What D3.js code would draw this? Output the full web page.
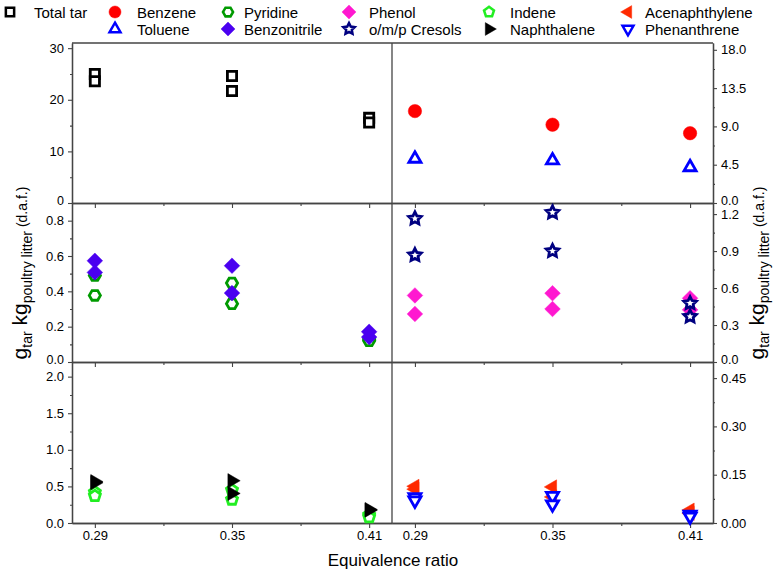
<!DOCTYPE html>
<html><head><meta charset="utf-8">
<script src="https://cdn.jsdelivr.net/npm/d3@7"></script>
<style>
body{margin:0;background:#fff;}
text{font-family:"Liberation Sans",Arial,sans-serif;fill:#000;}
</style></head>
<body>
<svg id="chart" width="784" height="572"></svg>
<script>
// ---------------- DATA ----------------
const ratios = [0.29, 0.35, 0.41];
const xMajorTicks = [0.29, 0.35, 0.41];
const xMinorTicks = [0.32, 0.38];

const totalTar1 = [25.0, 24.6, 16.5];
const totalTar2 = [23.6, 21.7, 15.6];
const benzene = [10.8, 9.2, 8.2];
const toluene = [5.2, 5.0, 4.2];
const pyridine1 = [0.49, 0.447, 0.13];
const pyridine2 = [0.377, 0.33, 0.12];
const benzonitrile1 = [0.573, 0.545, 0.171];
const benzonitrile2 = [0.507, 0.39, 0.141];
const phenol1 = [0.54, 0.558, 0.517];
const phenol2 = [0.39, 0.43, 0.423];
const cresols1 = [1.164, 1.213, 0.477];
const cresols2 = [0.867, 0.90, 0.369];
const indene1 = [0.42, 0.45, 0.11];
const indene2 = [0.37, 0.32, 0.08];
const naphthalene1 = [0.565, 0.578, 0.184];
const naphthalene2 = [0.55, 0.404, 0.175];
const acenaphthylene1 = [0.114, 0.112, 0.04];
const acenaphthylene2 = [0.105, 0.081, 0.03];
const phenanthrene1 = [0.08, 0.084, 0.026];
const phenanthrene2 = [0.07, 0.058, 0.02];

const yTicksTL = [0, 10, 20, 30],          yMinorTL = [5, 15, 25];
const yTicksML = [0, 0.2, 0.4, 0.6, 0.8],  yMinorML = [0.1, 0.3, 0.5, 0.7];
const yTicksBL = [0, 0.5, 1.0, 1.5, 2.0],  yMinorBL = [0.25, 0.75, 1.25, 1.75];
const yTicksTR = [0, 4.5, 9.0, 13.5, 18.0], yMinorTR = [2.25, 6.75, 11.25, 15.75];
const yTicksMR = [0, 0.3, 0.6, 0.9, 1.2],  yMinorMR = [0.15, 0.45, 0.75, 1.05];
const yTicksBR = [0, 0.15, 0.30, 0.45],    yMinorBR = [0.075, 0.225, 0.375];

const xTitle = "Equivalence ratio";

// ---------------- LAYOUT ----------------
const svg = d3.select("#chart");
const AX = "#444";
const colL = [72, 392], colR = [392, 713];
const rows = [[43, 203], [203, 362], [362, 523]];
const xL = d3.scaleLinear().domain([0.28, 0.42]).range(colL);
const xR = d3.scaleLinear().domain([0.28, 0.42]).range(colR);

function poly(n, R, rot) {
  const pts = [];
  for (let i = 0; i < n; i++) {
    const a = rot + i * 2 * Math.PI / n;
    pts.push([R * Math.cos(a), R * Math.sin(a)]);
  }
  return "M" + pts.map(p => p[0].toFixed(2) + "," + p[1].toFixed(2)).join("L") + "Z";
}
function starPath(Ro, Ri) {
  const pts = [];
  for (let i = 0; i < 10; i++) {
    const a = -Math.PI / 2 + i * Math.PI / 5;
    const r = i % 2 === 0 ? Ro : Ri;
    pts.push([r * Math.cos(a), r * Math.sin(a)]);
  }
  return "M" + pts.map(p => p[0].toFixed(2) + "," + p[1].toFixed(2)).join("L") + "Z";
}
const shapes = {
  square: s => `M${-4.6*s},${-4.6*s}H${4.6*s}V${4.6*s}H${-4.6*s}Z`,
  circle: s => d3.symbol(d3.symbolCircle, Math.PI * (6.7*s) * (6.7*s))(),
  triUp: s => poly(3, 7.0*s, -Math.PI/2),
  triDown: s => poly(3, 7.0*s, Math.PI/2),
  triRight: s => poly(3, 8.2*s, 0),
  triLeft: s => poly(3, 8.2*s, Math.PI),
  diamond: s => poly(4, 7.8*s, -Math.PI/2),
  hexagon: s => poly(6, 5.6*s, 0),
  pentagon: s => poly(5, 5.8*s, -Math.PI/2),
  star: s => starPath(6.6*s, 3.3*s)
};

const series = {
  totalTar:      {label: "Total tar", shape: "square", color: "#000000", open: true},
  benzene:       {label: "Benzene", shape: "circle", color: "#ff0000", open: false},
  toluene:       {label: "Toluene", shape: "triUp", color: "#0000ff", open: true},
  pyridine:      {label: "Pyridine", shape: "hexagon", color: "#009a00", open: true},
  benzonitrile:  {label: "Benzonitrile", shape: "diamond", color: "#4a00f0", open: false},
  phenol:        {label: "Phenol", shape: "diamond", color: "#ff18d0", open: false},
  cresols:       {label: "o/m/p Cresols", shape: "star", color: "#000080", open: true},
  indene:        {label: "Indene", shape: "pentagon", color: "#22ee22", open: true},
  naphthalene:   {label: "Naphthalene", shape: "triRight", color: "#000000", open: false},
  acenaphthylene:{label: "Acenaphthylene", shape: "triLeft", color: "#ff2a00", open: false},
  phenanthrene:  {label: "Phenanthrene", shape: "triDown", color: "#0000ff", open: true}
};

function marker(g, key, x, y, s) {
  const sp = series[key];
  g.append("path")
    .attr("d", shapes[sp.shape](s))
    .attr("transform", `translate(${x},${y})`)
    .attr("fill", sp.open ? "#fff" : sp.color)
    .attr("stroke", sp.color)
    .attr("stroke-width", sp.open ? 2.8 * s : 0.5)
    .attr("stroke-linejoin", "miter");
}

const panels = [
  {col: "L", row: 0, domain: [0, 31], ticks: yTicksTL, minor: yMinorTL, fmt: d3.format("d"),
   data: [["totalTar", totalTar1], ["totalTar", totalTar2]]},
  {col: "R", row: 0, domain: [0, 18.8], ticks: yTicksTR, minor: yMinorTR, fmt: d3.format(".1f"),
   data: [["benzene", benzene], ["toluene", toluene]]},
  {col: "L", row: 1, domain: [0, 0.9], ticks: yTicksML, minor: yMinorML, fmt: d3.format(".1f"),
   data: [["pyridine", pyridine1], ["pyridine", pyridine2], ["benzonitrile", benzonitrile1], ["benzonitrile", benzonitrile2]]},
  {col: "R", row: 1, domain: [0, 1.29], ticks: yTicksMR, minor: yMinorMR, fmt: d3.format(".1f"),
   data: [["phenol", phenol1], ["phenol", phenol2], ["cresols", cresols1], ["cresols", cresols2]]},
  {col: "L", row: 2, domain: [0, 2.2], ticks: yTicksBL, minor: yMinorBL, fmt: d3.format(".1f"),
   data: [["indene", indene1], ["indene", indene2], ["naphthalene", naphthalene1], ["naphthalene", naphthalene2]]},
  {col: "R", row: 2, domain: [0, 0.5], ticks: yTicksBR, minor: yMinorBR, fmt: d3.format(".2f"),
   data: [["acenaphthylene", acenaphthylene1], ["acenaphthylene", acenaphthylene2], ["phenanthrene", phenanthrene1], ["phenanthrene", phenanthrene2]]}
];

function styleAxis(g) {
  g.selectAll("path.domain").attr("stroke", AX).attr("stroke-width", 1.3);
  g.selectAll(".tick line").attr("stroke", AX).attr("stroke-width", 1.1);
  g.selectAll(".tick text").attr("font-size", 13).attr("font-family", "Liberation Sans, Arial, sans-serif").attr("fill", "#000");
}

panels.forEach(p => {
  const x = p.col === "L" ? xL : xR;
  const [top, bot] = rows[p.row];
  const y = d3.scaleLinear().domain(p.domain).range([bot, top]);
  const g = svg.append("g");

  const xa = g.append("g").attr("transform", `translate(0,${bot})`)
    .call(d3.axisBottom(x).tickValues(xMajorTicks).tickSizeInner(5).tickSizeOuter(0).tickPadding(3)
      .tickFormat(p.row === 2 ? d3.format(".2f") : () => ""));
  styleAxis(xa);
  const xm = g.append("g").attr("transform", `translate(0,${bot})`)
    .call(d3.axisBottom(x).tickValues(xMinorTicks).tickSizeInner(3).tickSizeOuter(0).tickFormat(() => ""));
  styleAxis(xm);

  let ya, ym;
  if (p.col === "L") {
    ya = g.append("g").attr("transform", `translate(${colL[0]},0)`)
      .call(d3.axisLeft(y).tickValues(p.ticks).tickSizeInner(4).tickSizeOuter(0).tickPadding(4).tickFormat(p.fmt));
    ym = g.append("g").attr("transform", `translate(${colL[0]},0)`)
      .call(d3.axisLeft(y).tickValues(p.minor).tickSizeInner(2).tickSizeOuter(0).tickFormat(() => ""));
  } else {
    ya = g.append("g").attr("transform", `translate(${colR[1]},0)`)
      .call(d3.axisRight(y).tickValues(p.ticks).tickSizeInner(4).tickSizeOuter(0).tickPadding(4).tickFormat(p.fmt));
    ym = g.append("g").attr("transform", `translate(${colR[1]},0)`)
      .call(d3.axisRight(y).tickValues(p.minor).tickSizeInner(2).tickSizeOuter(0).tickFormat(() => ""));
  }
  styleAxis(ya); styleAxis(ym);
  if (p.row < 2) {
    ya.selectAll(".tick text").filter(d => d === 0).attr("dy", "0.1em").attr("font-size", 12.5);
  }

  const mg = g.append("g");
  p.data.forEach(([key, vals]) => {
    vals.forEach((v, i) => marker(mg, key, x(ratios[i]), y(v), 1));
  });
});

svg.append("line").attr("x1", colL[0]).attr("x2", colR[1]).attr("y1", rows[0][0]).attr("y2", rows[0][0])
  .attr("stroke", AX).attr("stroke-width", 1.3);
svg.append("line").attr("x1", colL[1]).attr("x2", colL[1]).attr("y1", rows[0][0]).attr("y2", rows[2][1])
  .attr("stroke", AX).attr("stroke-width", 1.3);

svg.append("text").attr("x", 393).attr("y", 566).attr("text-anchor", "middle")
  .attr("font-size", 17).text(xTitle);

function yTitle(xPos) {
  const t = svg.append("text").attr("transform", `translate(${xPos},273) rotate(-90)`)
    .attr("text-anchor", "middle").attr("font-size", 21);
  t.append("tspan").text("g");
  t.append("tspan").attr("font-size", 14).attr("dy", 5).text("tar");
  t.append("tspan").attr("dy", -5).text(" kg");
  t.append("tspan").attr("font-size", 14).attr("dy", 5).text("poultry litter");
  t.append("tspan").attr("font-size", 14).attr("dy", -5).text(" (d.a.f.)");
}
yTitle(27);
yTitle(764);

const legendLayout = [
  {key: "totalTar", mx: 10, tx: 34, r: 0},
  {key: "benzene", mx: 115, tx: 137, r: 0},
  {key: "toluene", mx: 115, tx: 137, r: 1},
  {key: "pyridine", mx: 228, tx: 244, r: 0},
  {key: "benzonitrile", mx: 228, tx: 244, r: 1},
  {key: "phenol", mx: 349, tx: 369, r: 0},
  {key: "cresols", mx: 349, tx: 369, r: 1},
  {key: "indene", mx: 489, tx: 510, r: 0},
  {key: "naphthalene", mx: 489, tx: 510, r: 1},
  {key: "acenaphthylene", mx: 628, tx: 645, r: 0},
  {key: "phenanthrene", mx: 628, tx: 645, r: 1}
];
const lg = svg.append("g");
legendLayout.forEach(d => {
  const cy = d.r === 0 ? 12 : 29;
  const mg = lg.append("g").attr("transform", `translate(${d.mx},${cy}) scale(0.9)`);
  marker(mg, d.key, 0, 0, 1);
  lg.append("text").attr("x", d.tx).attr("y", cy + 5.5)
    .attr("font-size", 15).text(series[d.key].label);
});
</script>
</body></html>
